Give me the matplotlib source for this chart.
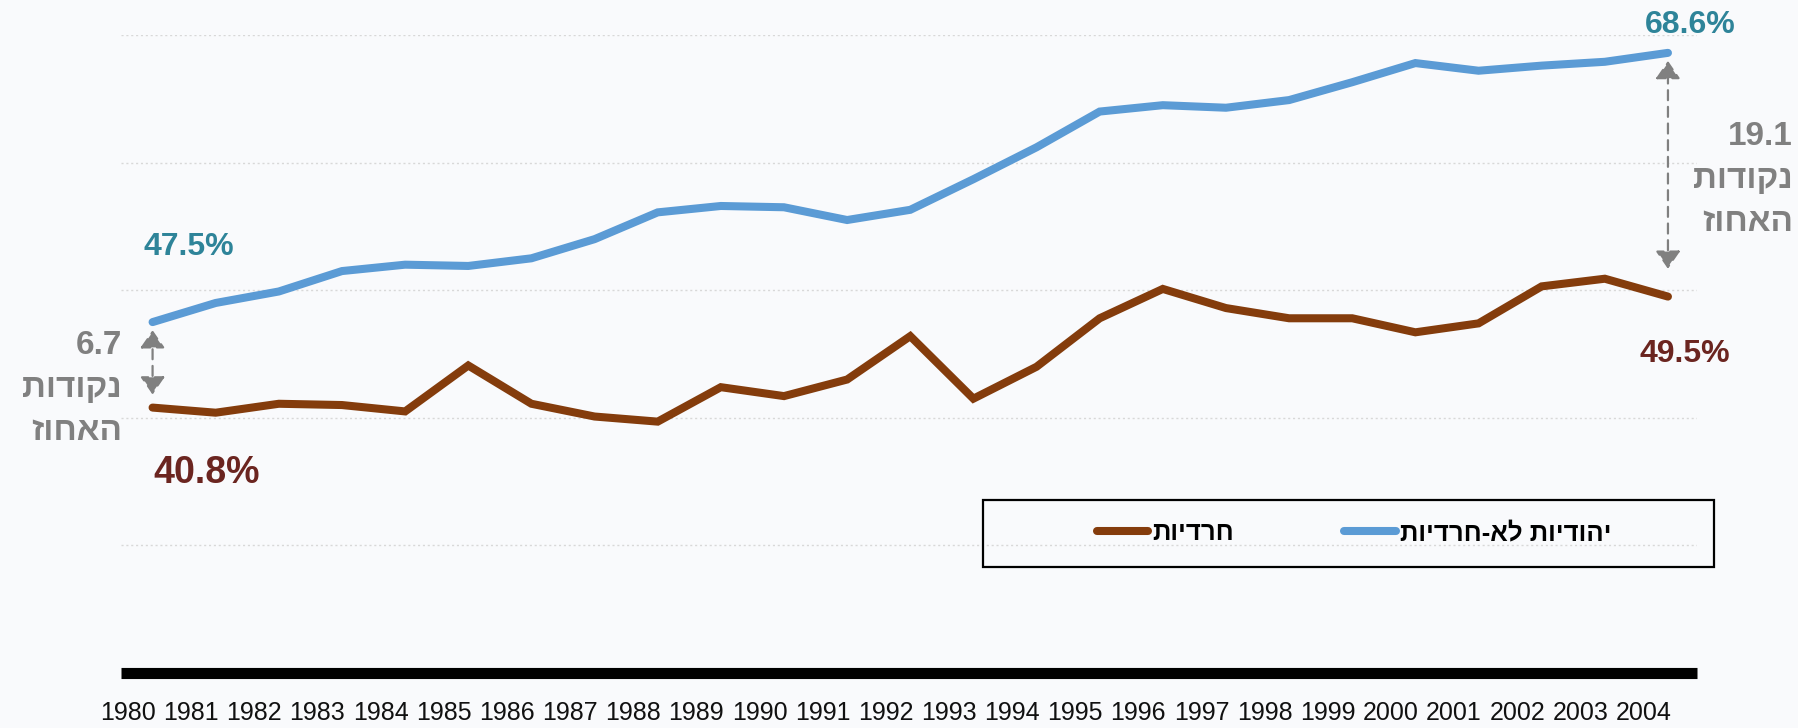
import matplotlib
matplotlib.use('Agg')
import matplotlib.pyplot as plt
from matplotlib.transforms import ScaledTranslation
from matplotlib.patches import Rectangle
from matplotlib.font_manager import FontProperties

# ---------------- data ----------------
years = list(range(1980, 2005))
non_haredi = [47.5, 49.0, 49.9, 51.5, 52.0, 51.9, 52.5, 54.0, 56.1, 56.6, 56.5, 55.5, 56.3,
              58.7, 61.2, 64.0, 64.5, 64.3, 64.9, 66.3, 67.8, 67.2, 67.6, 67.9, 68.6]
haredi = [40.8, 40.4, 41.1, 41.0, 40.5, 44.1, 41.1, 40.1, 39.7, 42.4, 41.7, 43.0, 46.4,
          41.5, 44.0, 47.8, 50.1, 48.6, 47.8, 47.8, 46.7, 47.4, 50.3, 50.9, 49.5]
series_names = ['יהודיות לא-חרדיות', 'חרדיות']
gap_words = ['נקודות', 'האחוז']
grid_values = [30, 40, 50, 60, 70]
y_range = (20, 70)


def rtl(s):
    return s[::-1]


BG = '#f9fafc'
BLUE = '#5b9bd5'
BROWN = '#843c0c'
TEAL = '#2e8499'
DARKRED = '#6b2520'
GRAY = '#808080'
NARROW = ['Liberation Sans Narrow', 'Liberation Sans', 'DejaVu Sans']

W, H = 1798, 728
fig = plt.figure(figsize=(W / 100, H / 100), dpi=100, facecolor=BG)
ax = fig.add_axes([121 / W, 55 / H, 1576 / W, 638 / H])
ax.set_facecolor(BG)
ax.set_xlim(years[0] - 0.5, years[-1] + 0.46)
ax.set_ylim(*y_range)

l_nh, = ax.plot(years, non_haredi, color=BLUE, lw=5.8, solid_capstyle='round',
                solid_joinstyle='miter', zorder=3, clip_on=False)
l_h, = ax.plot(years, haredi, color=BROWN, lw=5.8, solid_capstyle='round',
               solid_joinstyle='miter', zorder=3, clip_on=False)

# grid
ax.set_yticks(grid_values)
ax.yaxis.grid(True, color='#d8d8d8', linestyle=(0, (1.5, 2)), lw=1)
ax.tick_params(axis='y', length=0, labelleft=False)
for s in ['left', 'right', 'top']:
    ax.spines[s].set_visible(False)
ax.spines['bottom'].set_linewidth(8)
ax.spines['bottom'].set_color('black')
ax.spines['bottom'].set_capstyle('butt')

# x ticks
ax.set_xticks(years)
ax.set_xticklabels([str(y) for y in years], fontfamily=NARROW, fontsize=18, color='#111111')
ax.tick_params(axis='x', length=0, pad=20)
off = ScaledTranslation(-24.5 / 100, 0, fig.dpi_scale_trans)
for lab in ax.get_xticklabels():
    lab.set_transform(lab.get_transform() + off)

# value labels
def vlabel(x, y, txt, dx, dy, color, size):
    ax.annotate(txt, xy=(x, y), xytext=(dx, dy), textcoords='offset pixels',
                ha='left', va='baseline', color=color, fontsize=size,
                fontweight='bold', fontfamily=NARROW, annotation_clip=False)

vlabel(years[0], non_haredi[0], f'{non_haredi[0]:.1f}%', -9.5, 67, TEAL, 23)
vlabel(years[0], haredi[0], f'{haredi[0]:.1f}%', 0.5, -75, DARKRED, 27)
vlabel(years[-1], non_haredi[-1], f'{non_haredi[-1]:.1f}%', -23, 20, TEAL, 23)
vlabel(years[-1], haredi[-1], f'{haredi[-1]:.1f}%', -28, -65, DARKRED, 23)

# gap arrows
def gap_arrow(x, top, bottom, shrink_top, shrink_bottom):
    ax.annotate('', xy=(x, top), xytext=(x, bottom), annotation_clip=False,
                arrowprops=dict(arrowstyle='<|-|>,head_length=0.55,head_width=0.38',
                                mutation_scale=20, color=GRAY, lw=1.6,
                                linestyle=(0, (4.5, 3)),
                                shrinkA=shrink_bottom, shrinkB=shrink_top))

gap_arrow(years[0], non_haredi[0], haredi[0], 5.8, 9.4)
gap_arrow(years[-1], non_haredi[-1], haredi[-1], 5.8, 20)

gap0 = non_haredi[0] - haredi[0]
gap1 = non_haredi[-1] - haredi[-1]
gap_text0 = '\n'.join([f'{gap0:.1f}'] + [rtl(w) for w in gap_words])
gap_text1 = '\n'.join([f'{gap1:.1f}'] + [rtl(w) for w in gap_words])
ax.annotate(gap_text0, xy=(years[0], haredi[0]), xytext=(-30.5, 78), textcoords='offset pixels',
            ha='right', va='top', multialignment='right', color=GRAY, fontsize=24,
            fontweight='bold', fontfamily=NARROW, linespacing=1.5, annotation_clip=False)
ax.annotate(gap_text1, xy=(years[-1], non_haredi[-1]), xytext=(125, -68), textcoords='offset pixels',
            ha='right', va='top', multialignment='right', color=GRAY, fontsize=24,
            fontweight='bold', fontfamily=NARROW, linespacing=1.5, annotation_clip=False)

# legend
fig.add_artist(Rectangle((983 / W, (H - 567) / H), 731 / W, 67 / H, transform=fig.transFigure,
                         fill=False, edgecolor='black', lw=1.6))
fig.legend(handles=[l_h, l_nh], labels=[rtl(series_names[1]), rtl(series_names[0])],
           loc='center', bbox_to_anchor=(1354 / W, (H - 533) / H), bbox_transform=fig.transFigure,
           ncol=2, frameon=False, handlelength=2.0, handletextpad=0.15, columnspacing=4.3,
           prop=FontProperties(family=NARROW, weight='bold', size=18.5))

fig.savefig('out.png', dpi=100, facecolor=BG)
